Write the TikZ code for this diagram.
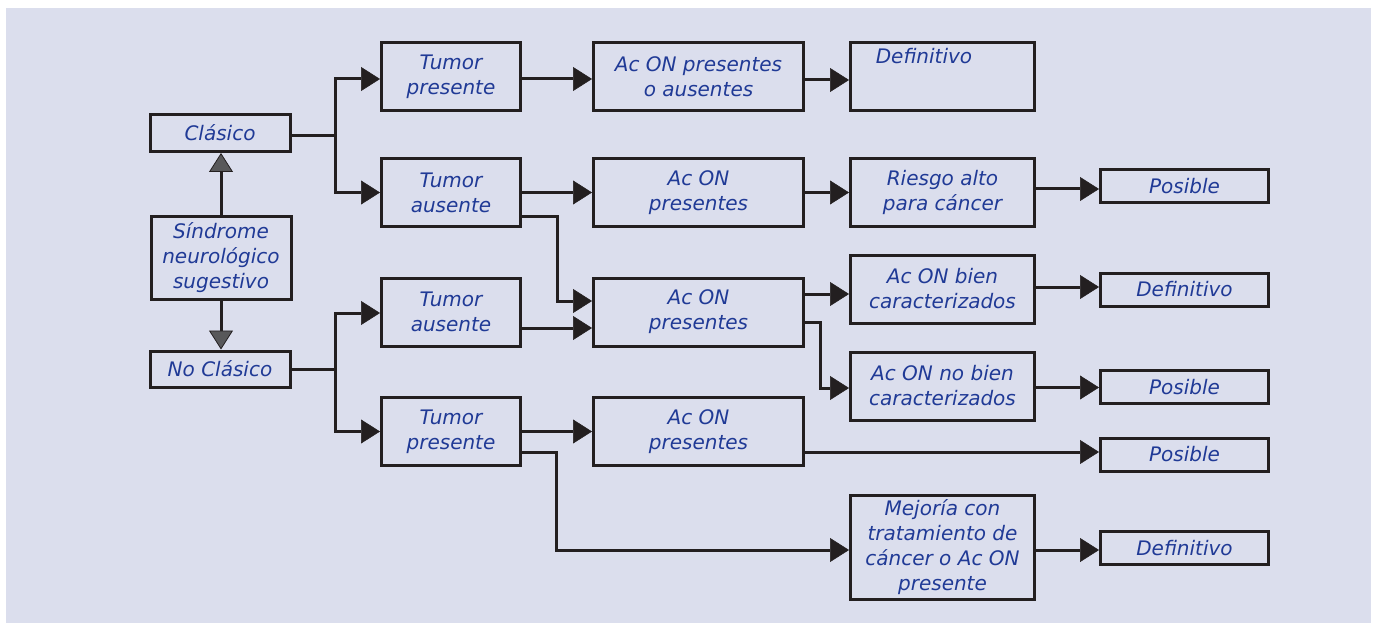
\documentclass[tikz,border=0pt]{standalone}
\usepackage{fontspec}
\setmainfont{DejaVu Sans}
\usetikzlibrary{arrows.meta,calc}

\definecolor{bgblue}{RGB}{219,222,237}
\definecolor{txtblue}{RGB}{32,58,150}
\definecolor{lnblack}{RGB}{35,31,32}
\definecolor{tipgray}{RGB}{88,88,90}

\tikzset{
  box/.style={draw=lnblack, line width=3pt, inner sep=0pt, align=center,
    text=txtblue, font=\fontsize{20}{25}\selectfont\itshape},
  leftbox/.style={box, minimum width=140pt},
  tumbox/.style={box, minimum width=139pt, minimum height=68pt},
  acbox/.style={box, minimum width=210pt, minimum height=68pt},
  resbox/.style={box, minimum width=184pt, minimum height=68pt},
  outbox/.style={box, minimum width=168pt, minimum height=33pt},
  conn/.style={draw=lnblack, line width=3pt},
  arr/.style={conn, -{Triangle[length=19pt,width=24pt,line width=0.5pt]}},
  garr/.style={conn, -{Triangle[length=19pt,width=24pt,line width=0.8pt,fill=tipgray]}}
}

\begin{document}
\begin{tikzpicture}[x=1pt,y=-1pt]
  \useasboundingbox (0,0) rectangle (1377,623);
  \fill[bgblue] (6,8) rectangle (1371,623);

  % left column
  \node[leftbox, minimum height=37pt] (clasico) at (220,133) {Clásico};
  \node[leftbox, minimum height=83pt] (sindrome) at (221,258) {Síndrome\\neurológico\\sugestivo};
  \node[leftbox, minimum height=36pt] (noclasico) at (220,369) {No Clásico};

  % Tumor column
  \foreach \nm/\yy/\tx in {tp1/76.5/Tumor\\presente, ta2/192.5/Tumor\\ausente,
      ta3/312/Tumor\\ausente, tp4/431.5/Tumor\\presente}
    \node[tumbox] (\nm) at (451,\yy) {\tx};

  % Ac ON column
  \foreach \nm/\yy/\tx in {ac1/76.5/Ac ON presentes\\o ausentes, ac2/192.5/Ac ON\\presentes,
      ac3/312/Ac ON\\presentes, ac4/431.5/Ac ON\\presentes}
    \node[acbox] (\nm) at (698.5,\yy) {\tx};

  % third column
  \node[resbox] (def1) at (942.5,76.5) {};
  \node[box, draw=none] (def1txt) at (924,56) {Definitivo};
  \node[resbox] (riesgo) at (942.5,192.5) {Riesgo alto\\para cáncer};
  \node[resbox] (bien) at (942.5,289) {Ac ON bien\\caracterizados};
  \node[resbox] (nobien) at (942.5,386) {Ac ON no bien\\caracterizados};
  \node[resbox, minimum height=104pt] (mejoria) at (942.5,547.5)
    {Mejoría con\\tratamiento de\\cáncer o Ac ON\\presente};

  % results
  \foreach \nm/\yy/\tx in {pos1/186/Posible, def2/289.5/Definitivo, pos3/387/Posible,
      pos4/454.5/Posible, def5/548/Definitivo}
    \node[outbox] (\nm) at (1184.5,\yy) {\tx};

  % Sindrome to Clasico / No Clasico
  \draw[garr] (sindrome.north) -- (sindrome.north |- clasico.south);
  \draw[garr] (sindrome.south) -- (sindrome.south |- noclasico.north);

  % Clasico branch
  \coordinate (forkA) at (335,136);
  \draw[conn] ([yshift=-3pt]clasico.east) -- (forkA);
  \draw[arr] (forkA) |- ([yshift=-2.5pt]tp1.west);
  \draw[arr] (forkA) |- (ta2.west);

  % No Clasico branch
  \coordinate (forkB) at (335,369);
  \draw[conn] (noclasico.east) -- (forkB);
  \draw[arr] (forkB) |- ([yshift=-1pt]ta3.west);
  \draw[arr] (forkB) |- (tp4.west);

  % first row
  \draw[arr] ([yshift=-2.5pt]tp1.east) -- ([yshift=-2.5pt]ac1.west);
  \draw[arr] ([yshift=-3.5pt]ac1.east) -- ([yshift=-3.5pt]def1.west);

  % second row
  \draw[arr] (ta2.east) -- (ac2.west);
  \draw[arr] (ac2.east) -- (riesgo.west);
  \draw[arr] ([yshift=3.5pt]riesgo.east) coordinate (r1) -- (r1 -| pos1.west);
  \coordinate (elbA) at (557,301);
  \draw[arr] ([yshift=-23.5pt]ta2.east) -| (elbA) -- ([yshift=11pt]ac3.west);

  % third row
  \draw[arr] ([yshift=-16pt]ta3.east) -- ([yshift=-16pt]ac3.west);
  \draw[arr] ([yshift=18pt]ac3.east) coordinate (a3) -- (a3 -| bien.west);
  \coordinate (elbB) at (820,388);
  \draw[arr] ([yshift=-10pt]ac3.east) -| (elbB) -- (elbB -| nobien.west);
  \draw[arr] ([yshift=2pt]bien.east) coordinate (b1) -- (b1 -| def2.west);
  \draw[arr] ([yshift=-1.5pt]nobien.east) coordinate (n1) -- (n1 -| pos3.west);

  % fourth row
  \draw[arr] (tp4.east) -- (ac4.west);
  \draw[arr] ([yshift=-20.5pt]ac4.east) coordinate (a4) -- (a4 -| pos4.west);
  \coordinate (elbC) at (556,550);
  \draw[arr] ([yshift=-20.5pt]tp4.east) -| (elbC) -- (elbC -| mejoria.west);
  \draw[arr] ([yshift=-2.5pt]mejoria.east) coordinate (m1) -- (m1 -| def5.west);
\end{tikzpicture}
\end{document}
